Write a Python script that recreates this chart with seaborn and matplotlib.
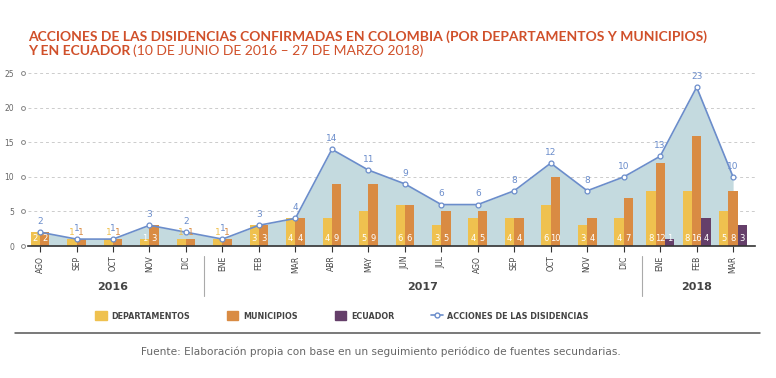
import matplotlib
matplotlib.use("Agg")
import matplotlib.pyplot as plt
import matplotlib.transforms as mtransforms
from matplotlib.patches import Patch
from matplotlib.lines import Line2D
import seaborn as sns
import numpy as np
import pandas as pd

# data
months = ["AGO", "SEP", "OCT", "NOV", "DIC",
          "ENE", "FEB", "MAR", "ABR", "MAY", "JUN", "JUL", "AGO", "SEP", "OCT", "NOV", "DIC",
          "ENE", "FEB", "MAR"]
years = ["2016"] * 5 + ["2017"] * 12 + ["2018"] * 3
departamentos = [2, 1, 1, 1, 1, 1, 3, 4, 4, 5, 6, 3, 4, 4, 6, 3, 4, 8, 8, 5]
municipios = [2, 1, 1, 3, 1, 1, 3, 4, 9, 9, 6, 5, 5, 4, 10, 4, 7, 12, 16, 8]
ecuador = [0, 0, 0, 0, 0, 0, 0, 0, 0, 0, 0, 0, 0, 0, 0, 0, 0, 1, 4, 3]
acciones = [2, 1, 1, 3, 2, 1, 3, 4, 14, 11, 9, 6, 6, 8, 12, 8, 10, 13, 23, 10]

C_DEP = "#efc14f"
C_MUN = "#d98b43"
C_ECU = "#653f6a"
C_LINE = "#6b8dcb"
C_FILL = "#c4dadf"
C_TITLE = "#d0502a"
C_TEXT = "#444444"
NARROW = ["Liberation Sans Narrow", "DejaVu Sans"]

sns.set_theme(style="white")
plt.rcParams["font.family"] = ["Lato", "DejaVu Sans"]

df = pd.DataFrame({"mes": months, "anio": years, "dep": departamentos,
                   "mun": municipios, "ecu": ecuador, "acc": acciones})
df["x"] = np.arange(len(df))

fig = plt.figure(figsize=(7.76, 3.78), dpi=100)
ax = fig.add_axes([28 / 776, 1 - 246 / 378, (755 - 28) / 776, (246 - 72) / 378])

# area under the line
ax.fill_between(df["x"], df["acc"], color=C_FILL, zorder=1, lw=0)

# bars
w = 0.255
for _, r in df.iterrows():
    if r["ecu"] > 0:
        offs = [-w, 0, w]
        vals = [r["dep"], r["mun"], r["ecu"]]
        cols = [C_DEP, C_MUN, C_ECU]
    else:
        offs = [-w / 2, w / 2]
        vals = [r["dep"], r["mun"]]
        cols = [C_DEP, C_MUN]
    big = max(vals) >= 2
    for o, v, c in zip(offs, vals, cols):
        ax.bar(r["x"] + o, v, width=w, color=c, zorder=2, lw=0)
        if big:
            ax.text(r["x"] + o, 1.1, str(v), ha="center", va="center",
                    fontsize=6, color="white", zorder=5, family=NARROW)
        else:
            ax.text(r["x"] + o, 2.0, str(v), ha="center", va="center",
                    fontsize=6.5, color=c, zorder=5, family=NARROW)

sns.lineplot(data=df, x="x", y="acc", ax=ax, color=C_LINE, lw=1.2, zorder=3,
             marker="o", markersize=3.5, markerfacecolor="white",
             markeredgecolor=C_LINE, markeredgewidth=0.9)
for _, r in df.iterrows():
    ax.text(r["x"], r["acc"] + 0.9, str(r["acc"]), ha="center", va="bottom",
            fontsize=6.5, color=C_LINE, zorder=5, family=NARROW)

ax.set_xlim(-0.33, len(df) - 1 + 0.6)
ax.set_ylim(0, 25.2)
ax.set_yticks([0, 5, 10, 15, 20, 25])
ax.set_yticklabels(["0", "5", "10", "15", "20", "25"], fontsize=5.5, color="#666666",
                   family=NARROW)
ax.tick_params(axis="y", length=0, pad=10)
ax.yaxis.grid(True, ls=(0, (3, 3)), color="#cccccc", lw=0.7)
ax.set_axisbelow(True)
trans = mtransforms.blended_transform_factory(ax.transAxes, ax.transData)
ax.scatter([-0.007] * 6, [0, 5, 10, 15, 20, 25], s=8, facecolor="white",
           edgecolor="#888888", linewidth=0.7, transform=trans, clip_on=False, zorder=6)

ax.set_xticks(df["x"])
ax.set_xticklabels(df["mes"], rotation=90, fontsize=5.5, color=C_TEXT, family=NARROW)
ax.tick_params(axis="x", length=4, width=0.8, color="#333333", direction="out", pad=3,
               bottom=True)
ax.set_xlabel("")
ax.set_ylabel("")
for s in ["left", "right", "top"]:
    ax.spines[s].set_visible(False)
ax.spines["bottom"].set_color("#333333")
ax.spines["bottom"].set_linewidth(1.2)

# year groups
xt = mtransforms.blended_transform_factory(ax.transData, fig.transFigure)
for sep in [4.5, 16.5]:
    ax.add_line(Line2D([sep, sep], [1 - 256 / 378, 1 - 296 / 378], transform=xt,
                       color="#aaaaaa", lw=0.8, clip_on=False))
for yr in ["2016", "2017", "2018"]:
    xs = df.loc[df["anio"] == yr, "x"]
    ax.text(xs.mean(), 1 - 287 / 378, yr, transform=xt, ha="center", va="center",
            fontsize=8, color=C_TEXT, fontweight="bold", family=NARROW)

# title
fig.text(28 / 776, 1 - 37 / 378, "ACCIONES DE LAS DISIDENCIAS CONFIRMADAS EN COLOMBIA (POR DEPARTAMENTOS Y MUNICIPIOS)",
         fontsize=10, fontweight="bold", color=C_TITLE, va="center")
t2 = fig.text(28 / 776, 1 - 51 / 378, "Y EN ECUADOR", fontsize=10, fontweight="bold",
              color=C_TITLE, va="center")
fig.canvas.draw()
bb = t2.get_window_extent()
fig.text(bb.x1 / 776 + 0.004, 1 - 51 / 378, "(10 DE JUNIO DE 2016 – 27 DE MARZO 2018)",
         fontsize=10, color=C_TITLE, va="center")

# legend
handles = [Patch(color=C_DEP), Patch(color=C_MUN), Patch(color=C_ECU),
           Line2D([], [], color=C_LINE, lw=1.2, marker="o", markersize=3.5,
                  markerfacecolor="white", markeredgecolor=C_LINE)]
labels = ["DEPARTAMENTOS", "MUNICIPIOS", "ECUADOR", "ACCIONES DE LAS DISIDENCIAS"]
leg = fig.legend(handles, labels, loc="center left", bbox_to_anchor=(88 / 776, 1 - 316 / 378),
                 ncol=4, frameon=False,
                 prop={"family": "DejaVu Sans", "weight": "bold", "size": 5.8},
                 columnspacing=4.6, handlelength=1.4, handleheight=1.3, handletextpad=0.6,
                 labelcolor=C_TEXT)

fig.add_artist(Line2D([15 / 776, 760 / 776], [1 - 333 / 378] * 2, transform=fig.transFigure,
                      color="#555555", lw=1.1))
fig.text(381 / 776, 1 - 352 / 378,
         "Fuente: Elaboración propia con base en un seguimiento periódico de fuentes secundarias.",
         ha="center", va="center", fontsize=7.6, color="#666666", family="DejaVu Sans")

fig.savefig("out.png", dpi=100, facecolor="white")
